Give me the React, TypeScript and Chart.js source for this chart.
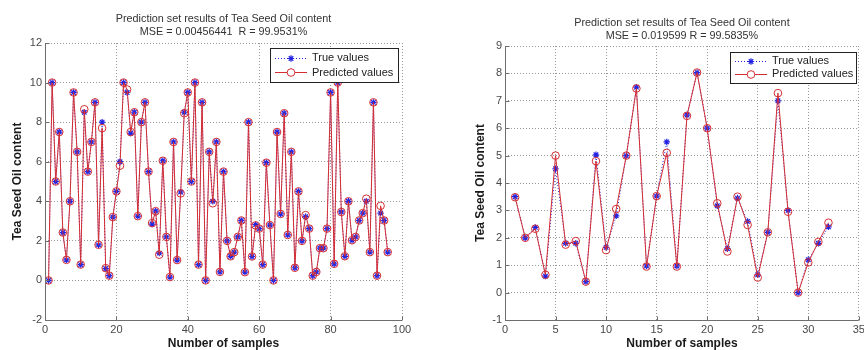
import React, { useEffect, useRef } from 'react';
import { Chart, registerables } from 'chart.js';

Chart.register(...registerables);

const FONT = "'Liberation Sans', Arial, Helvetica, sans-serif";
const BLUE = 'rgb(35,35,225)';
const RED = 'rgb(212,45,50)';
const GRID = 'rgba(110,110,110,0.7)';

// ---- text ----
const titleLine = 'Prediction set results of Tea Seed Oil content';
const leftStats = 'MSE = 0.00456441  R = 99.9531%';
const rightStats = 'MSE = 0.019599 R = 99.5835%';
const xAxisLabel = 'Number of samples';
const yAxisLabel = 'Tea Seed Oil content';
const seriesNames = ['True values', 'Predicted values'];

// ---- axis ranges [min, max, step] ----
const leftXRange = [0, 100, 20];
const leftYRange = [-2, 12, 2];
const rightXRange = [0, 35, 5];
const rightYRange = [-1, 9, 1];

// ---- left panel data (samples 1..96) ----
const leftTrue = [
  0.0, 10.0, 5.0, 7.5, 2.42, 1.04, 4.0, 9.5, 6.5, 0.8,
  8.5, 5.5, 7.0, 9.0, 1.8, 8.0, 0.6, 0.24, 3.2, 4.5,
  6.0, 10.0, 9.5, 7.45, 8.5, 3.25, 8.0, 9.0, 5.5, 2.85,
  3.5, 1.38, 6.05, 2.2, 0.17, 7.0, 1.03, 4.47, 8.5, 9.5,
  5.0, 10.0, 0.8, 9.0, 0.0, 6.5, 4.0, 7.0, 0.43, 5.5,
  2.0, 1.22, 1.43, 2.2, 3.03, 0.42, 8.0, 1.21, 2.82, 2.62,
  0.8, 5.95, 2.8, 0.0, 7.5, 3.36, 8.45, 2.3, 6.5, 0.64,
  4.5, 2.0, 3.22, 2.62, 0.24, 0.43, 1.63, 1.63, 2.62, 9.5,
  0.84, 10.0, 3.46, 1.22, 4.0, 2.03, 2.2, 3.03, 3.4, 4.0,
  1.43, 9.0, 0.24, 3.4, 3.03, 1.43,
];
const leftPred = [
  0.0, 10.0, 5.0, 7.5, 2.42, 1.04, 4.0, 9.5, 6.5, 0.8,
  8.65, 5.5, 7.0, 9.0, 1.8, 7.7, 0.62, 0.24, 3.2, 4.5,
  5.8, 10.0, 9.65, 7.5, 8.5, 3.25, 8.0, 9.0, 5.5, 2.9,
  3.5, 1.3, 6.05, 2.2, 0.17, 7.0, 1.03, 4.4, 8.45, 9.5,
  5.0, 10.0, 0.8, 9.0, 0.0, 6.5, 3.9, 7.0, 0.43, 5.5,
  2.0, 1.22, 1.43, 2.2, 3.03, 0.42, 8.0, 1.21, 2.78, 2.62,
  0.8, 5.95, 2.8, 0.0, 7.5, 3.36, 8.45, 2.3, 6.5, 0.64,
  4.5, 2.0, 3.3, 2.62, 0.24, 0.43, 1.63, 1.63, 2.62, 9.5,
  0.84, 10.0, 3.46, 1.22, 4.0, 2.03, 2.2, 3.03, 3.4, 4.13,
  1.43, 9.0, 0.24, 3.77, 3.03, 1.43,
];

// ---- right panel data (samples 1..32) ----
const rightTrue = [
  3.5, 2.0, 2.38, 0.6, 4.52, 1.8, 1.8, 0.4, 5.03, 1.65,
  2.8, 5.0, 7.5, 0.97, 3.52, 5.5, 0.97, 6.48, 8.03, 6.0,
  3.17, 1.6, 3.45, 2.6, 0.65, 2.2, 7.0, 3.0, 0.0, 1.2,
  1.8, 2.4,
];
const rightPred = [
  3.48, 2.0, 2.33, 0.65, 5.0, 1.75, 1.88, 0.4, 4.8, 1.55,
  3.05, 5.0, 7.45, 0.95, 3.52, 5.1, 0.95, 6.45, 8.03, 6.0,
  3.26, 1.5, 3.5, 2.47, 0.55, 2.2, 7.28, 2.95, 0.0, 1.1,
  1.85, 2.55,
];

function drawStar(ctx: CanvasRenderingContext2D, x: number, y: number, r: number) {
  const d = r * Math.SQRT1_2;
  ctx.moveTo(x - r, y); ctx.lineTo(x + r, y);
  ctx.moveTo(x, y - r); ctx.lineTo(x, y + r);
  ctx.moveTo(x - d, y - d); ctx.lineTo(x + d, y + d);
  ctx.moveTo(x - d, y + d); ctx.lineTo(x + d, y - d);
}

const matlabPlugin = {
  id: 'matlab',
  afterDraw(chart: any, _args: any, opts: any) {
    const { ctx, chartArea } = chart;
    const { left, right, top, bottom } = chartArea;
    const xs = chart.scales.x;
    const ys = chart.scales.y;
    ctx.save();
    ctx.setLineDash([]);
    ctx.strokeStyle = '#6e6e6e';
    ctx.lineWidth = 1;
    ctx.beginPath();
    const L = Math.round(left) + 0.5;
    const B = Math.round(bottom) + 0.5;
    ctx.moveTo(L, top);
    ctx.lineTo(L, B);
    ctx.lineTo(right, B);
    xs.ticks.forEach((t: any) => {
      const px = Math.round(xs.getPixelForValue(t.value)) + 0.5;
      ctx.moveTo(px, B);
      ctx.lineTo(px, B - 4);
    });
    ys.ticks.forEach((t: any) => {
      const py = Math.round(ys.getPixelForValue(t.value)) + 0.5;
      ctx.moveTo(L, py);
      ctx.lineTo(L + 4, py);
    });
    ctx.stroke();

    // legend box
    const [bx, by, bw, bh] = opts.box;
    ctx.fillStyle = '#ffffff';
    ctx.fillRect(bx, by, bw, bh);
    ctx.strokeStyle = '#222';
    ctx.strokeRect(bx + 0.5, by + 0.5, bw, bh);
    const rows = [by + bh * 0.3, by + bh * 0.72];
    const lx1 = bx + 5, lx2 = bx + 37, mx = (lx1 + lx2) / 2;
    // true values row
    ctx.strokeStyle = BLUE;
    ctx.setLineDash([1, 2]);
    ctx.beginPath();
    ctx.moveTo(lx1, Math.round(rows[0]) + 0.5);
    ctx.lineTo(lx2, Math.round(rows[0]) + 0.5);
    ctx.stroke();
    ctx.setLineDash([]);
    ctx.lineWidth = 1.2;
    ctx.beginPath();
    drawStar(ctx, mx, Math.round(rows[0]) + 0.5, 3.2);
    ctx.stroke();
    // predicted row
    ctx.lineWidth = 1;
    ctx.strokeStyle = RED;
    ctx.beginPath();
    ctx.moveTo(lx1, Math.round(rows[1]) + 0.5);
    ctx.lineTo(mx - 3.8, Math.round(rows[1]) + 0.5);
    ctx.moveTo(mx + 3.8, Math.round(rows[1]) + 0.5);
    ctx.lineTo(lx2, Math.round(rows[1]) + 0.5);
    ctx.stroke();
    ctx.beginPath();
    ctx.arc(mx, Math.round(rows[1]) + 0.5, 3.8, 0, Math.PI * 2);
    ctx.stroke();
    // texts
    ctx.fillStyle = '#222';
    ctx.font = `11px ${FONT}`;
    ctx.textBaseline = 'middle';
    ctx.textAlign = 'left';
    ctx.fillText(seriesNames[0], bx + 42, rows[0]);
    ctx.fillText(seriesNames[1], bx + 42, rows[1]);
    ctx.restore();
  },
};

type Panel = {
  trueVals: number[];
  predVals: number[];
  stats: string;
  xr: number[];
  yr: number[];
  padLeft: number;
  padRight: number;
  yAxisWidth: number;
  titleTop: number;
  titleBottom: number;
  legendBox: number[];
};

function buildConfig(p: Panel): any {
  const toPts = (arr: number[]) => arr.map((y, i) => ({ x: i + 1, y }));
  const tickFont = { family: FONT, size: 11 };
  const axisTitleFont = { family: FONT, size: 12, weight: 'bold' as const };
  return {
    type: 'line',
    data: {
      datasets: [
        {
          label: seriesNames[0],
          data: toPts(p.trueVals),
          borderColor: BLUE,
          borderWidth: 1,
          borderDash: [1, 2],
          pointStyle: 'star',
          pointRadius: 3.2,
          pointBorderWidth: 1.2,
          pointBorderColor: BLUE,
          pointBackgroundColor: BLUE,
          fill: false,
          tension: 0,
          order: 2,
        },
        {
          label: seriesNames[1],
          data: toPts(p.predVals),
          borderColor: RED,
          borderWidth: 1,
          pointStyle: 'circle',
          pointRadius: 3.8,
          pointBorderWidth: 1,
          pointBorderColor: RED,
          pointBackgroundColor: 'rgba(0,0,0,0)',
          fill: false,
          tension: 0,
          order: 1,
        },
      ],
    },
    options: {
      responsive: false,
      animation: false,
      devicePixelRatio: 1,
      events: [],
      layout: { padding: { left: p.padLeft, right: p.padRight, top: 0, bottom: 0 } },
      plugins: {
        legend: { display: false },
        tooltip: { enabled: false },
        title: {
          display: true,
          text: [titleLine, p.stats],
          fullSize: false,
          color: '#333',
          font: { family: FONT, size: 10.8, weight: 'normal', lineHeight: '13px' },
          padding: { top: p.titleTop, bottom: p.titleBottom },
        },
        matlab: { box: p.legendBox },
      },
      scales: {
        x: {
          type: 'linear',
          min: p.xr[0],
          max: p.xr[1],
          ticks: { stepSize: p.xr[2], color: '#484848', font: tickFont, padding: 3, maxRotation: 0, autoSkip: false },
          grid: { color: GRID, drawTicks: false, lineWidth: 1 },
          border: { display: false, dash: [1, 2] },
          title: { display: true, text: xAxisLabel, color: '#1a1a1a', font: axisTitleFont, padding: { top: 0, bottom: -1 } },
          afterFit: (s: any) => { s.height = 30; s.paddingLeft = 0; s.paddingRight = 0; },
        },
        y: {
          type: 'linear',
          min: p.yr[0],
          max: p.yr[1],
          ticks: { stepSize: p.yr[2], color: '#484848', font: tickFont, padding: 3, autoSkip: false },
          grid: { color: GRID, drawTicks: false, lineWidth: 1 },
          border: { display: false, dash: [1, 2] },
          title: { display: true, text: yAxisLabel, color: '#1a1a1a', font: axisTitleFont, padding: { top: 10, bottom: 0 } },
          afterFit: (s: any) => { s.width = p.yAxisWidth; s.paddingTop = 0; s.paddingBottom = 0; },
        },
      },
    },
    plugins: [matlabPlugin],
  };
}

const panels: Panel[] = [
  {
    trueVals: leftTrue, predVals: leftPred, stats: leftStats, xr: leftXRange, yr: leftYRange,
    padLeft: 0, padRight: 30, yAxisWidth: 45, titleTop: 12.5, titleBottom: 4.5,
    legendBox: [270, 48, 128, 34],
  },
  {
    trueVals: rightTrue, predVals: rightPred, stats: rightStats, xr: rightXRange, yr: rightYRange,
    padLeft: 31, padRight: 4, yAxisWidth: 42, titleTop: 16.5, titleBottom: 3.5,
    legendBox: [298, 52, 126, 31],
  },
];

function PanelChart({ panel, left }: { panel: Panel; left: number }) {
  const ref = useRef<HTMLCanvasElement>(null);
  useEffect(() => {
    const chart = new Chart(ref.current as HTMLCanvasElement, buildConfig(panel));
    return () => chart.destroy();
  }, [panel]);
  return (
    <canvas
      ref={ref}
      width={432}
      height={350}
      style={{ position: 'absolute', left, top: 0, width: 432, height: 350 }}
    />
  );
}

export default function App() {
  return (
    <div style={{ position: 'fixed', left: 0, top: 0, width: 864, height: 350, background: '#ffffff', overflow: 'hidden' }}>
      <PanelChart panel={panels[0]} left={0} />
      <PanelChart panel={panels[1]} left={432} />
    </div>
  );
}
